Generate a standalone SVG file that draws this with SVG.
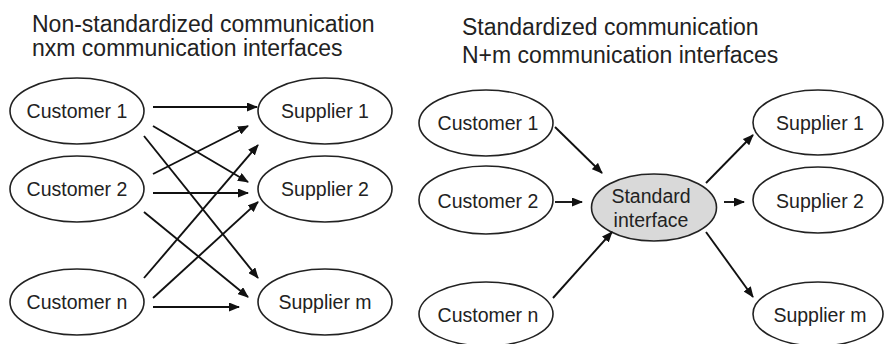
<svg xmlns="http://www.w3.org/2000/svg" width="884" height="344" viewBox="0 0 884 344">
  <style>
    .title { font-family: "Liberation Sans", Arial, sans-serif; font-size: 23px; fill: #222; }
    .label { font-family: "Liberation Sans", Arial, sans-serif; font-size: 19.5px; fill: #222; text-anchor: middle; }
    .node { fill: #fff; stroke: #222; stroke-width: 1.6; }
    .hub { fill: #d9d9d9; stroke: #222; stroke-width: 1.6; }
    .edge { stroke: #111; stroke-width: 1.9; fill: none; marker-end: url(#arrow); }
  </style>
  <defs>
    <marker id="arrow" markerUnits="userSpaceOnUse" markerWidth="11" markerHeight="9" refX="10" refY="4.5" orient="auto">
      <path d="M0,0 L11,4.5 L0,9 z" fill="#111"/>
    </marker>
  </defs>
  <rect width="884" height="344" fill="#fff"/>

  <!-- Titles -->
  <text class="title" x="32" y="32">Non-standardized communication</text>
  <text class="title" x="32" y="55.5">nxm communication interfaces</text>
  <text class="title" x="462" y="34.5">Standardized communication</text>
  <text class="title" x="462" y="62.5">N+m communication interfaces</text>

  <!-- Left: point-to-point -->
  <g id="left-customer-1"><ellipse class="node" cx="77" cy="111" rx="67" ry="33"/><text class="label" x="77" y="118">Customer 1</text></g>
  <g id="left-customer-2"><ellipse class="node" cx="77" cy="189" rx="67" ry="33"/><text class="label" x="77" y="196">Customer 2</text></g>
  <g id="left-customer-n"><ellipse class="node" cx="77" cy="302" rx="67" ry="33"/><text class="label" x="77" y="309">Customer n</text></g>
  <g id="left-supplier-1"><ellipse class="node" cx="325" cy="111" rx="67" ry="33"/><text class="label" x="325" y="118">Supplier 1</text></g>
  <g id="left-supplier-2"><ellipse class="node" cx="325" cy="189" rx="67" ry="33"/><text class="label" x="325" y="196">Supplier 2</text></g>
  <g id="left-supplier-m"><ellipse class="node" cx="325" cy="302" rx="67" ry="33"/><text class="label" x="325" y="309">Supplier m</text></g>

  <!-- Right: via standard interface -->
  <g id="right-customer-1"><ellipse class="node" cx="486" cy="123" rx="67" ry="33"/><text class="label" x="488" y="130">Customer 1</text></g>
  <g id="right-customer-2"><ellipse class="node" cx="486" cy="200" rx="67" ry="34"/><text class="label" x="488" y="207.5">Customer 2</text></g>
  <g id="right-customer-n"><ellipse class="node" cx="486" cy="314" rx="67" ry="32"/><text class="label" x="488" y="322">Customer n</text></g>
  <g id="standard-interface"><ellipse class="hub" cx="654" cy="207.5" rx="62.5" ry="33.5"/><text class="label" x="651" y="203">Standard</text><text class="label" x="651" y="227">interface</text></g>
  <g id="right-supplier-1"><ellipse class="node" cx="818" cy="122.5" rx="65" ry="32.5"/><text class="label" x="820" y="130">Supplier 1</text></g>
  <g id="right-supplier-2"><ellipse class="node" cx="818" cy="200" rx="65" ry="33"/><text class="label" x="820" y="207.5">Supplier 2</text></g>
  <g id="right-supplier-m"><ellipse class="node" cx="818" cy="314" rx="65" ry="32"/><text class="label" x="820" y="322">Supplier m</text></g>

  <g id="connectors">
    <line class="edge" x1="153" y1="107" x2="257" y2="107"/>
    <line class="edge" x1="153" y1="126" x2="248" y2="182"/>
    <line class="edge" x1="144" y1="136" x2="258" y2="278"/>
    <line class="edge" x1="153" y1="174" x2="248" y2="126"/>
    <line class="edge" x1="153" y1="193" x2="248" y2="193"/>
    <line class="edge" x1="144" y1="212" x2="248" y2="297"/>
    <line class="edge" x1="144" y1="278" x2="258" y2="145"/>
    <line class="edge" x1="153" y1="298" x2="258" y2="202"/>
    <line class="edge" x1="153" y1="307" x2="239" y2="307"/>

    <line class="edge" x1="555" y1="127" x2="602" y2="173"/>
    <line class="edge" x1="555" y1="202" x2="582" y2="202"/>
    <line class="edge" x1="553" y1="298" x2="612" y2="232"/>
    <line class="edge" x1="706" y1="183" x2="753" y2="135"/>
    <line class="edge" x1="724" y1="202" x2="744" y2="202"/>
    <line class="edge" x1="706" y1="232" x2="753" y2="297"/>
  </g>
</svg>
